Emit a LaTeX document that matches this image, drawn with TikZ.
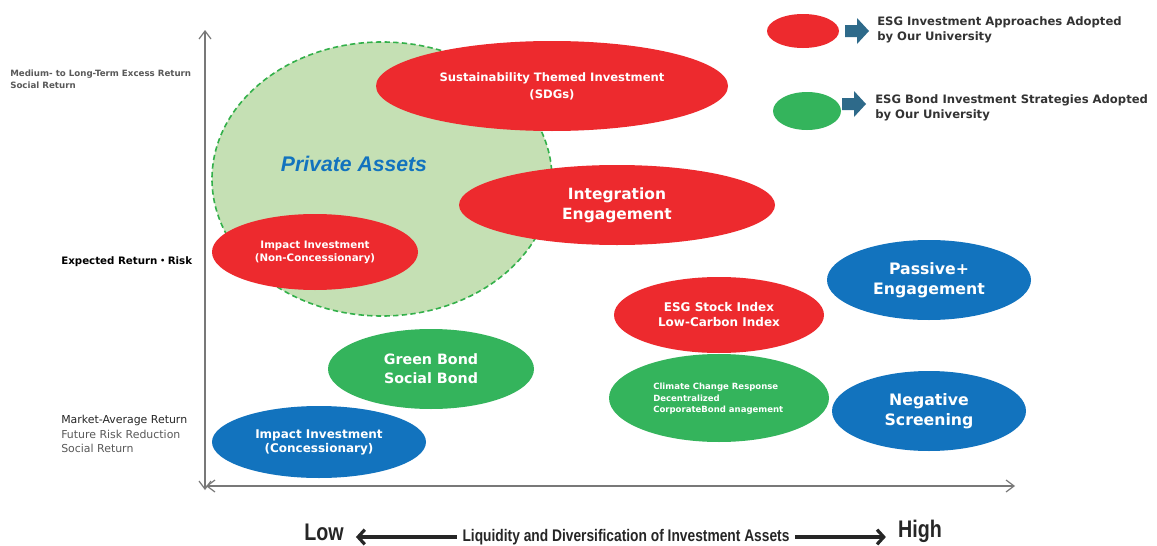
\documentclass[tikz,border=0pt]{standalone}
\usepackage{fontspec}
\setmainfont{DejaVu Sans}
\newfontfamily\lib{Liberation Sans}
\newfontfamily\narrow[FakeStretch=0.82]{Liberation Sans}
\newfontfamily\cjk{Noto Sans CJK JP}
\usetikzlibrary{shapes.geometric,arrows.meta}
\definecolor{cred}{RGB}{237,42,46}
\definecolor{cgreen}{RGB}{52,180,92}
\definecolor{cblue}{RGB}{18,115,190}
\definecolor{clight}{RGB}{197,224,180}
\definecolor{cdash}{RGB}{51,176,74}
\definecolor{carrow}{RGB}{46,106,138}
\definecolor{cgray}{RGB}{89,89,89}
\definecolor{caxis}{RGB}{120,120,120}
\tikzset{
  ell/.style 2 args={ellipse, inner sep=0pt, minimum width=1.5*#1pt, minimum height=1.5*#2pt, text=white, align=center, font=\bfseries},
  redell/.style 2 args={ell={#1}{#2}, fill=cred},
  greenell/.style 2 args={ell={#1}{#2}, fill=cgreen},
  blueell/.style 2 args={ell={#1}{#2}, fill=cblue},
  axisline/.style={draw=caxis, line width=0.9pt, {Straight Barb[length=6pt,width=9pt]}-{Straight Barb[length=6pt,width=9pt]}},
  bigarrow/.style={draw=black!85, line width=2.4pt, -{Straight Barb[length=5pt,width=11pt,line width=2.4pt]}},
  legtext/.style={anchor=west, align=left, text=black!80, font=\bfseries\fontsize{8.7}{11.25}\selectfont, inner sep=0pt},
}
\begin{document}
\begin{tikzpicture}[x=0.75pt,y=-0.75pt]
\useasboundingbox (0,0) rectangle (1157,546);
\fill[white] (0,0) rectangle (1157,546);

% axes
\coordinate (vtop) at (205,30);
\coordinate (vbot) at (205,490);
\coordinate (hleft) at (206,486);
\coordinate (hright) at (1015,486);
\draw[axisline] (vbot) -- (vtop);
\draw[axisline] (hleft) -- (hright);

% private assets
\node[ellipse, draw=cdash, dashed, line width=1.2pt, dash pattern=on 4pt off 2.5pt, fill=clight, minimum width=1.5*170pt, minimum height=1.5*137pt, inner sep=0pt] (pa) at (382,179) {};
\node[text=cblue, font=\lib\bfseries\itshape\fontsize{15.9}{18}\selectfont, inner sep=0pt] (patext) at (354,164) {Private Assets};

% red ellipses
\node[redell={176}{45}, font=\bfseries\fontsize{8.7}{12.75}\selectfont] (sti) at (552,86) {Sustainability Themed Investment\\(SDGs)};
\node[redell={158}{40}, font=\bfseries\fontsize{11.6}{15}\selectfont] (ie) at (617,205) {Integration\\Engagement};
\node[redell={103}{38}, font=\bfseries\fontsize{7.7}{9.75}\selectfont] (inc) at (315,252) {Impact Investment\\(Non-Concessionary)};
\node[redell={105}{38}, font=\bfseries\fontsize{9}{11.25}\selectfont] (esi) at (719,315) {ESG Stock Index\\Low-Carbon Index};

% blue ellipses
\node[blueell={102}{40}, font=\bfseries\fontsize{11.8}{15}\selectfont] (pe) at (929,280) {Passive+\\Engagement};
\node[blueell={97}{40}, font=\bfseries\fontsize{11.8}{15}\selectfont] (ns) at (929,411) {Negative\\Screening};
\node[blueell={107}{36}, font=\bfseries\fontsize{9}{10.5}\selectfont] (ic) at (319,442) {Impact Investment\\(Concessionary)};

% green ellipses
\node[greenell={103}{40}, font=\bfseries\fontsize{10.7}{14.25}\selectfont] (gb) at (431,369) {Green Bond\\Social Bond};
\node[greenell={110}{44}] (cc) at (719,398) {};
\node[text=white, align=left, anchor=west, inner sep=0pt, font=\bfseries\fontsize{6.4}{8.6}\selectfont] (cctext) at (653,399) {Climate Change Response\\Decentralized\\CorporateBond anagement};

% legend
\node[ellipse, fill=cred, minimum width=1.5*36pt, minimum height=1.5*17pt, inner sep=0pt] (lr) at (803,31) {};
\fill[carrow] (845,25) -- (857,25) -- (857,18) -- (869,31) -- (857,44) -- (857,37) -- (845,37) -- cycle;
\node[legtext] (lrt) at (877,30) {ESG Investment Approaches Adopted\\by Our University};
\node[ellipse, fill=cgreen, minimum width=1.5*34pt, minimum height=1.5*19pt, inner sep=0pt] (lg) at (807,111) {};
\fill[carrow] (842,98) -- (854,98) -- (854,91) -- (866,104) -- (854,117) -- (854,110) -- (842,110) -- cycle;
\node[legtext] (lgt) at (875,108) {ESG Bond Investment Strategies Adopted\\by Our University};

% left labels
\node[anchor=west, align=left, inner sep=0pt, text=cgray, font=\bfseries\fontsize{6.5}{9}\selectfont] (ml) at (10,79) {Medium- to Long-Term Excess Return\\Social Return};
\node[anchor=west, inner sep=0pt, text=black, font=\bfseries\fontsize{7.7}{9}\selectfont] (er) at (61,262) {Expected Return{\cjk ・}Risk};
\node[anchor=west, align=left, inner sep=0pt, text=cgray, font=\fontsize{8.2}{10.9}\selectfont] (mr) at (61,434) {\textcolor{black!85}{Market-Average Return}\\Future Risk Reduction\\Social Return};

% bottom
\node[font=\narrow\bfseries\fontsize{18}{20}\selectfont, inner sep=0pt, text=black!85] (low) at (324,532) {Low};
\node[font=\narrow\bfseries\fontsize{18}{20}\selectfont, inner sep=0pt, text=black!85] (high) at (920,531) {High};
\node[font=\narrow\bfseries\fontsize{12.6}{14}\selectfont, inner sep=0pt, text=black!85] (liq) at (626,537) {Liquidity and Diversification of Investment Assets};
\draw[bigarrow, shorten <=4pt, shorten >=9pt] (liq.west) -- (low.east |- liq.west);
\draw[bigarrow, shorten <=4pt, shorten >=9pt] (liq.east) -- (high.west |- liq.east);
\end{tikzpicture}
\end{document}
